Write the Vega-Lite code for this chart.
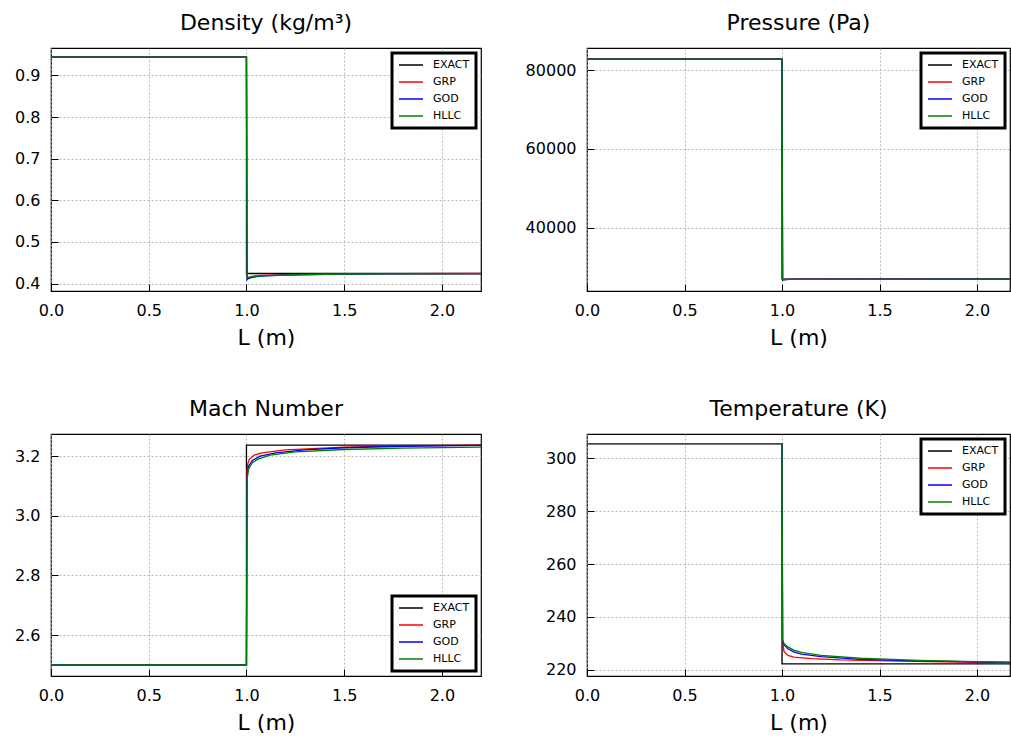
{
  "$schema": "https://vega.github.io/schema/vega-lite/v6.json",
  "padding": {"left": 13, "top": 11, "right": 0, "bottom": 0},
  "background": "white",
  "columns": 2,
  "spacing": {"row": 48, "column": 42},
  "resolve": {"scale": {"color": "independent"}, "legend": {"color": "independent"}},
  "config": {
    "view": {"stroke": "black", "strokeWidth": 1.2},
    "axis": {"domain": false, "tickSize": -7, "tickColor": "black", "tickWidth": 1, "labelFlush": false, "labelOverlap": false, "labelFont": "DejaVu Sans", "labelFontSize": 16, "labelColor": "black", "titleFont": "DejaVu Sans", "titleFontSize": 22, "titleFontWeight": "normal", "titleColor": "black", "gridColor": "#a8a8a8", "gridDash": [2, 2], "gridWidth": 0.8},
    "axisX": {"labelPadding": 18, "titlePadding": 9},
    "axisY": {"labelPadding": 18},
    "title": {"font": "DejaVu Sans", "fontSize": 22, "fontWeight": "normal", "color": "black", "offset": 13},
    "legend": {"labelFont": "DejaVu Sans", "labelFontSize": 11, "labelColor": "black", "symbolType": "stroke", "symbolSize": 576, "symbolStrokeWidth": 1.3, "clipHeight": 12, "rowPadding": 5, "labelOffset": 9, "strokeColor": "black", "strokeWidth": 3, "fillColor": "white", "padding": 6, "offset": 5, "cornerRadius": 0}
  },
  "datasets": {
    "rho": [
      {"s": "EXACT", "o": 0, "x": 0, "y": 0.944}, {"s": "EXACT", "o": 1, "x": 1, "y": 0.944}, {"s": "EXACT", "o": 2, "x": 1, "y": 0.424}, {"s": "EXACT", "o": 3, "x": 2.2, "y": 0.424},
      {"s": "GRP", "o": 0, "x": 0, "y": 0.944}, {"s": "GRP", "o": 1, "x": 1, "y": 0.944}, {"s": "GRP", "o": 2, "x": 1.003, "y": 0.414}, {"s": "GRP", "o": 3, "x": 1.01, "y": 0.415}, {"s": "GRP", "o": 4, "x": 1.03, "y": 0.417}, {"s": "GRP", "o": 5, "x": 1.06, "y": 0.419}, {"s": "GRP", "o": 6, "x": 1.1, "y": 0.42}, {"s": "GRP", "o": 7, "x": 1.2, "y": 0.4215}, {"s": "GRP", "o": 8, "x": 1.4, "y": 0.423}, {"s": "GRP", "o": 9, "x": 1.7, "y": 0.4236}, {"s": "GRP", "o": 10, "x": 2.2, "y": 0.424},
      {"s": "GOD", "o": 0, "x": 0, "y": 0.944}, {"s": "GOD", "o": 1, "x": 1, "y": 0.944}, {"s": "GOD", "o": 2, "x": 1.003, "y": 0.409}, {"s": "GOD", "o": 3, "x": 1.01, "y": 0.412}, {"s": "GOD", "o": 4, "x": 1.03, "y": 0.415}, {"s": "GOD", "o": 5, "x": 1.06, "y": 0.417}, {"s": "GOD", "o": 6, "x": 1.1, "y": 0.4185}, {"s": "GOD", "o": 7, "x": 1.2, "y": 0.4205}, {"s": "GOD", "o": 8, "x": 1.4, "y": 0.422}, {"s": "GOD", "o": 9, "x": 1.7, "y": 0.4232}, {"s": "GOD", "o": 10, "x": 2.2, "y": 0.4238},
      {"s": "HLLC", "o": 0, "x": 0, "y": 0.944}, {"s": "HLLC", "o": 1, "x": 1, "y": 0.944}, {"s": "HLLC", "o": 2, "x": 1.003, "y": 0.412}, {"s": "HLLC", "o": 3, "x": 1.01, "y": 0.414}, {"s": "HLLC", "o": 4, "x": 1.03, "y": 0.4165}, {"s": "HLLC", "o": 5, "x": 1.06, "y": 0.418}, {"s": "HLLC", "o": 6, "x": 1.1, "y": 0.419}, {"s": "HLLC", "o": 7, "x": 1.2, "y": 0.4205}, {"s": "HLLC", "o": 8, "x": 1.4, "y": 0.422}, {"s": "HLLC", "o": 9, "x": 1.7, "y": 0.423}, {"s": "HLLC", "o": 10, "x": 2.2, "y": 0.4236}
    ],
    "p": [
      {"s": "EXACT", "o": 0, "x": 0, "y": 82800}, {"s": "EXACT", "o": 1, "x": 1, "y": 82800}, {"s": "EXACT", "o": 2, "x": 1, "y": 27000}, {"s": "EXACT", "o": 3, "x": 2.2, "y": 27000},
      {"s": "GRP", "o": 0, "x": 0, "y": 82800}, {"s": "GRP", "o": 1, "x": 1, "y": 82800}, {"s": "GRP", "o": 2, "x": 1.003, "y": 26900}, {"s": "GRP", "o": 3, "x": 1.02, "y": 26960}, {"s": "GRP", "o": 4, "x": 1.1, "y": 26990}, {"s": "GRP", "o": 5, "x": 2.2, "y": 27000},
      {"s": "GOD", "o": 0, "x": 0, "y": 82800}, {"s": "GOD", "o": 1, "x": 1, "y": 82800}, {"s": "GOD", "o": 2, "x": 1.003, "y": 26700}, {"s": "GOD", "o": 3, "x": 1.01, "y": 26850}, {"s": "GOD", "o": 4, "x": 1.03, "y": 26950}, {"s": "GOD", "o": 5, "x": 1.1, "y": 26990}, {"s": "GOD", "o": 6, "x": 2.2, "y": 27000},
      {"s": "HLLC", "o": 0, "x": 0, "y": 82800}, {"s": "HLLC", "o": 1, "x": 1, "y": 82800}, {"s": "HLLC", "o": 2, "x": 1.003, "y": 26800}, {"s": "HLLC", "o": 3, "x": 1.01, "y": 26900}, {"s": "HLLC", "o": 4, "x": 1.05, "y": 26970}, {"s": "HLLC", "o": 5, "x": 2.2, "y": 27000}
    ],
    "mach": [
      {"s": "EXACT", "o": 0, "x": 0, "y": 2.5}, {"s": "EXACT", "o": 1, "x": 1, "y": 2.5}, {"s": "EXACT", "o": 2, "x": 1, "y": 3.237}, {"s": "EXACT", "o": 3, "x": 2.2, "y": 3.237},
      {"s": "GRP", "o": 0, "x": 0, "y": 2.5}, {"s": "GRP", "o": 1, "x": 1, "y": 2.5}, {"s": "GRP", "o": 2, "x": 1.003, "y": 3.15}, {"s": "GRP", "o": 3, "x": 1.007, "y": 3.175}, {"s": "GRP", "o": 4, "x": 1.015, "y": 3.19}, {"s": "GRP", "o": 5, "x": 1.04, "y": 3.203}, {"s": "GRP", "o": 6, "x": 1.08, "y": 3.211}, {"s": "GRP", "o": 7, "x": 1.2, "y": 3.221}, {"s": "GRP", "o": 8, "x": 1.5, "y": 3.23}, {"s": "GRP", "o": 9, "x": 1.8, "y": 3.234}, {"s": "GRP", "o": 10, "x": 2.2, "y": 3.237},
      {"s": "GOD", "o": 0, "x": 0, "y": 2.5}, {"s": "GOD", "o": 1, "x": 1, "y": 2.5}, {"s": "GOD", "o": 2, "x": 1.003, "y": 3.13}, {"s": "GOD", "o": 3, "x": 1.01, "y": 3.165}, {"s": "GOD", "o": 4, "x": 1.03, "y": 3.185}, {"s": "GOD", "o": 5, "x": 1.07, "y": 3.2}, {"s": "GOD", "o": 6, "x": 1.15, "y": 3.211}, {"s": "GOD", "o": 7, "x": 1.3, "y": 3.221}, {"s": "GOD", "o": 8, "x": 1.5, "y": 3.228}, {"s": "GOD", "o": 9, "x": 1.8, "y": 3.233}, {"s": "GOD", "o": 10, "x": 2.2, "y": 3.236},
      {"s": "HLLC", "o": 0, "x": 0, "y": 2.5}, {"s": "HLLC", "o": 1, "x": 1, "y": 2.5}, {"s": "HLLC", "o": 2, "x": 1.003, "y": 3.12}, {"s": "HLLC", "o": 3, "x": 1.01, "y": 3.155}, {"s": "HLLC", "o": 4, "x": 1.03, "y": 3.178}, {"s": "HLLC", "o": 5, "x": 1.06, "y": 3.19}, {"s": "HLLC", "o": 6, "x": 1.12, "y": 3.203}, {"s": "HLLC", "o": 7, "x": 1.25, "y": 3.214}, {"s": "HLLC", "o": 8, "x": 1.5, "y": 3.222}, {"s": "HLLC", "o": 9, "x": 1.8, "y": 3.227}, {"s": "HLLC", "o": 10, "x": 2.2, "y": 3.23}
    ],
    "T": [
      {"s": "EXACT", "o": 0, "x": 0, "y": 305.5}, {"s": "EXACT", "o": 1, "x": 1, "y": 305.5}, {"s": "EXACT", "o": 2, "x": 1, "y": 222.3}, {"s": "EXACT", "o": 3, "x": 2.2, "y": 222.3},
      {"s": "GRP", "o": 0, "x": 0, "y": 305.5}, {"s": "GRP", "o": 1, "x": 1, "y": 305.5}, {"s": "GRP", "o": 2, "x": 1.003, "y": 231}, {"s": "GRP", "o": 3, "x": 1.01, "y": 227}, {"s": "GRP", "o": 4, "x": 1.03, "y": 225.5}, {"s": "GRP", "o": 5, "x": 1.06, "y": 224.8}, {"s": "GRP", "o": 6, "x": 1.15, "y": 224.3}, {"s": "GRP", "o": 7, "x": 1.3, "y": 223.8}, {"s": "GRP", "o": 8, "x": 1.6, "y": 223.3}, {"s": "GRP", "o": 9, "x": 2, "y": 222.9}, {"s": "GRP", "o": 10, "x": 2.2, "y": 222.6},
      {"s": "GOD", "o": 0, "x": 0, "y": 305.5}, {"s": "GOD", "o": 1, "x": 1, "y": 305.5}, {"s": "GOD", "o": 2, "x": 1.003, "y": 231}, {"s": "GOD", "o": 3, "x": 1.01, "y": 229.5}, {"s": "GOD", "o": 4, "x": 1.03, "y": 228}, {"s": "GOD", "o": 5, "x": 1.06, "y": 226.8}, {"s": "GOD", "o": 6, "x": 1.1, "y": 226}, {"s": "GOD", "o": 7, "x": 1.2, "y": 225}, {"s": "GOD", "o": 8, "x": 1.4, "y": 224}, {"s": "GOD", "o": 9, "x": 1.7, "y": 223.4}, {"s": "GOD", "o": 10, "x": 2, "y": 223}, {"s": "GOD", "o": 11, "x": 2.2, "y": 222.8},
      {"s": "HLLC", "o": 0, "x": 0, "y": 305.5}, {"s": "HLLC", "o": 1, "x": 1, "y": 305.5}, {"s": "HLLC", "o": 2, "x": 1.003, "y": 231.5}, {"s": "HLLC", "o": 3, "x": 1.01, "y": 230}, {"s": "HLLC", "o": 4, "x": 1.03, "y": 228.7}, {"s": "HLLC", "o": 5, "x": 1.06, "y": 227.5}, {"s": "HLLC", "o": 6, "x": 1.1, "y": 226.6}, {"s": "HLLC", "o": 7, "x": 1.2, "y": 225.5}, {"s": "HLLC", "o": 8, "x": 1.4, "y": 224.4}, {"s": "HLLC", "o": 9, "x": 1.7, "y": 223.6}, {"s": "HLLC", "o": 10, "x": 2, "y": 223.1}, {"s": "HLLC", "o": 11, "x": 2.2, "y": 222.9}
    ]
  },
  "concat": [
    {
      "title": "Density (kg/m³)",
      "width": 430, "height": 243,
      "data": {"name": "rho"},
      "mark": {"type": "line", "strokeWidth": 1.3, "clip": true},
      "encoding": {
        "x": {"field": "x", "type": "quantitative", "scale": {"domain": [0, 2.2], "nice": false, "zero": false}, "axis": {"values": [0, 0.5, 1, 1.5, 2], "format": ".1f", "title": "L (m)"}},
        "y": {"field": "y", "type": "quantitative", "scale": {"domain": [0.382, 0.966], "nice": false, "zero": false}, "axis": {"values": [0.4, 0.5, 0.6, 0.7, 0.8, 0.9], "format": ".1f", "title": null}},
        "color": {"field": "s", "type": "nominal", "scale": {"domain": ["EXACT", "GRP", "GOD", "HLLC"], "range": ["#000000", "#ff0000", "#0000ff", "#008000"]}, "legend": {"orient": "top-right", "title": null}},
        "order": {"field": "o", "type": "quantitative"}
      }
    },
    {
      "title": "Pressure (Pa)",
      "width": 423, "height": 243,
      "data": {"name": "p"},
      "mark": {"type": "line", "strokeWidth": 1.3, "clip": true},
      "encoding": {
        "x": {"field": "x", "type": "quantitative", "scale": {"domain": [0, 2.169], "nice": false, "zero": false}, "axis": {"values": [0, 0.5, 1, 1.5, 2], "format": ".1f", "title": "L (m)"}},
        "y": {"field": "y", "type": "quantitative", "scale": {"domain": [24000, 85600], "nice": false, "zero": false}, "axis": {"values": [40000, 60000, 80000], "format": "d", "title": null}},
        "color": {"field": "s", "type": "nominal", "scale": {"domain": ["EXACT", "GRP", "GOD", "HLLC"], "range": ["#000000", "#ff0000", "#0000ff", "#008000"]}, "legend": {"orient": "top-right", "title": null}},
        "order": {"field": "o", "type": "quantitative"}
      }
    },
    {
      "title": "Mach Number",
      "width": 430, "height": 242,
      "data": {"name": "mach"},
      "mark": {"type": "line", "strokeWidth": 1.3, "clip": true},
      "encoding": {
        "x": {"field": "x", "type": "quantitative", "scale": {"domain": [0, 2.2], "nice": false, "zero": false}, "axis": {"values": [0, 0.5, 1, 1.5, 2], "format": ".1f", "title": "L (m)"}},
        "y": {"field": "y", "type": "quantitative", "scale": {"domain": [2.463, 3.274], "nice": false, "zero": false}, "axis": {"values": [2.6, 2.8, 3.0, 3.2], "format": ".1f", "title": null}},
        "color": {"field": "s", "type": "nominal", "scale": {"domain": ["EXACT", "GRP", "GOD", "HLLC"], "range": ["#000000", "#ff0000", "#0000ff", "#008000"]}, "legend": {"orient": "bottom-right", "title": null}},
        "order": {"field": "o", "type": "quantitative"}
      }
    },
    {
      "title": "Temperature (K)",
      "width": 423, "height": 242,
      "data": {"name": "T"},
      "mark": {"type": "line", "strokeWidth": 1.3, "clip": true},
      "encoding": {
        "x": {"field": "x", "type": "quantitative", "scale": {"domain": [0, 2.169], "nice": false, "zero": false}, "axis": {"values": [0, 0.5, 1, 1.5, 2], "format": ".1f", "title": "L (m)"}},
        "y": {"field": "y", "type": "quantitative", "scale": {"domain": [217.7, 309.1], "nice": false, "zero": false}, "axis": {"values": [220, 240, 260, 280, 300], "format": "d", "title": null}},
        "color": {"field": "s", "type": "nominal", "scale": {"domain": ["EXACT", "GRP", "GOD", "HLLC"], "range": ["#000000", "#ff0000", "#0000ff", "#008000"]}, "legend": {"orient": "top-right", "title": null}},
        "order": {"field": "o", "type": "quantitative"}
      }
    }
  ]
}
